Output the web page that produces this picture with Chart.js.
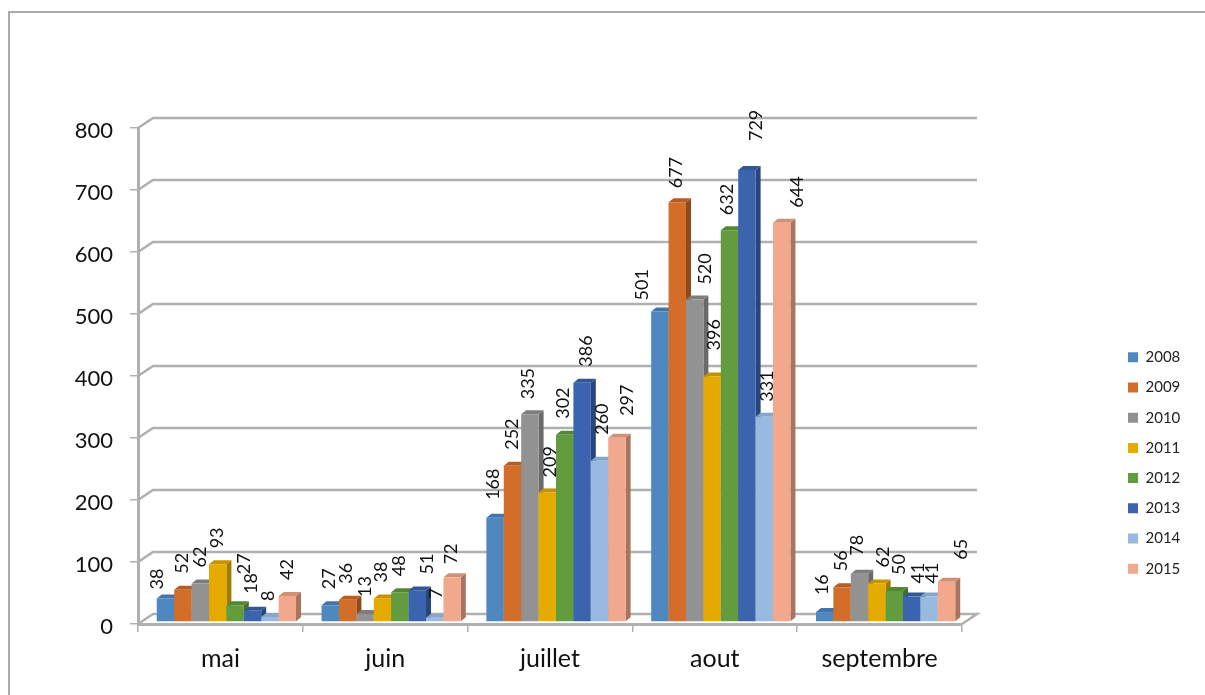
<!DOCTYPE html>
<html>
<head>
<meta charset="utf-8">
<title>mai - septembre</title>
<script src="https://cdn.jsdelivr.net/npm/chart.js@4"></script>
<style>
  html, body { margin: 0; padding: 0; background: #fff; overflow: hidden; }
  #frame { position: absolute; left: 8px; top: 11px; width: 1197px; height: 684px;
           border-left: 2px solid #aaaaaa; border-top: 2px solid #aaaaaa; box-sizing: border-box; }
  #mycanvas { position: absolute; left: 0; top: 0; }
</style>
</head>
<body>
<div id="frame"></div>
<canvas id="mycanvas" width="1205" height="695"></canvas>
<script>
var categories = ['mai', 'juin', 'juillet', 'aout', 'septembre'];
var years = ['2008', '2009', '2010', '2011', '2012', '2013', '2014', '2015'];
var y2008 = [38, 27, 168, 501, 16];
var y2009 = [52, 36, 252, 677, 56];
var y2010 = [62, 13, 335, 520, 78];
var y2011 = [93, 38, 209, 396, 62];
var y2012 = [27, 48, 302, 632, 50];
var y2013 = [18, 51, 386, 729, 41];
var y2014 = [8, 7, 260, 331, 41];
var y2015 = [42, 72, 297, 644, 65];
var series = [y2008, y2009, y2010, y2011, y2012, y2013, y2014, y2015];
var colors = ['#4f87bf', '#d36e2a', '#929292', '#e5aa00', '#629c3e', '#3a65ae', '#98b9e0', '#f2a88c'];
var sideColors = ['#39648f', '#8f4a1c', '#6a6a6a', '#a37a00', '#44702b', '#26467c', '#6f8cad', '#a9745f'];
var topColors = ['#4375a8', '#b55e22', '#7d7d7d', '#c69300', '#538635', '#315795', '#86a5ca', '#cf9076'];

var gridColor = '#b0b0b0';
var depthX = 15, depthY = 10;     // back wall offset
var barDx = 6, barDy = 2;         // bars stand a little behind the front edge
var sideX = 5, sideY = 4;         // bar depth
var labelGap = 18;

// the labels were moved by hand in the original, so nudge them per year / month
var labelDx = [
  [-8, -1, -2, -18, -2],
  [-1, -1, 0, -1, -1],
  [0, 0, -2, 10, -2],
  [-1, -1, 3, 2, 6],
  [9, -1, -2, -2, 5],
  [-1, 10, 4, 9, 6],
  [-2, 1, 3, 3, 3],
  [0, -1, 10, 15, 15]
];
var labelDy = [
  [7, 0, -2, 5, -1],
  [0, 0, 0, 2, 0],
  [0, -1, 1, 1, -2],
  [0, 0, 1, -10, 0],
  [-15, 0, 0, 1, 0],
  [-1, 0, 0, -13, 3],
  [0, -3, -10, 1, 3],
  [0, 3, -6, 1, -6]
];

var datasets = [];
for (var i in series) {
  datasets.push({
    label: years[i],
    data: series[i],
    backgroundColor: colors[i],
    borderWidth: 0,
    clip: false
  });
}

function drawSides(c, meta, i) {
  meta.data.forEach(function(el) {
    var l = el.x - el.width / 2, r = el.x + el.width / 2;
    c.fillStyle = sideColors[i];
    c.beginPath();
    c.moveTo(r, el.y);
    c.lineTo(r + sideX, el.y - sideY);
    c.lineTo(r + sideX, el.base - sideY);
    c.lineTo(r, el.base);
    c.closePath();
    c.fill();
    c.fillStyle = topColors[i];
    c.beginPath();
    c.moveTo(l, el.y);
    c.lineTo(l + sideX, el.y - sideY);
    c.lineTo(r + sideX, el.y - sideY);
    c.lineTo(r, el.y);
    c.closePath();
    c.fill();
  });
}

var wall3d = {
  id: 'wall3d',
  beforeDatasetsDraw: function(chart) {
    var c = chart.ctx, yS = chart.scales.y, a = chart.chartArea;
    c.save();
    c.strokeStyle = gridColor;
    c.lineWidth = 2.5;
    yS.ticks.forEach(function(t) {
      var p = yS.getPixelForValue(t.value);
      c.beginPath();
      c.moveTo(a.left, p);
      c.lineTo(a.left + depthX, p - depthY);
      c.lineTo(a.right + depthX, p - depthY);
      if (t.value === 0) c.lineTo(a.right, p);
      c.stroke();
    });
    c.restore();
    // left to right so each bar covers the side of the one before it
    c.save();
    c.translate(barDx, -barDy);
    for (var i = 0; i < series.length; i++) {
      var meta = chart.getDatasetMeta(i);
      drawSides(c, meta, i);
      meta.controller.draw();
    }
    c.restore();
  },
  beforeDatasetDraw: function() {
    return false;
  },
  afterDatasetsDraw: function(chart) {
    var c = chart.ctx;
    c.save();
    c.fillStyle = '#111';
    c.font = '18px Lato';
    c.textAlign = 'left';
    c.textBaseline = 'middle';
    chart.data.datasets.forEach(function(ds, i) {
      chart.getDatasetMeta(i).data.forEach(function(el, j) {
        c.save();
        c.translate(el.x + barDx + labelDx[i][j], el.y - labelGap + labelDy[i][j]);
        c.rotate(-Math.PI / 2);
        c.fillText(ds.data[j], 0, 0);
        c.restore();
      });
    });
    c.restore();
  },
  afterLayout: function(chart) {
    var lg = chart.legend;
    lg.left = 1128 - lg.options.labels.padding;
    lg.right = 1205;
    lg.top += 215;
    lg.bottom += 215;
  }
};

var ctx = document.getElementById('mycanvas');
var barGraph = new Chart(ctx, {
  type: 'bar',
  data: { labels: categories, datasets: datasets },
  plugins: [wall3d],
  options: {
    responsive: false,
    animation: false,
    layout: { padding: { top: 128, right: 243 } },
    categoryPercentage: 0.845,
    barPercentage: 1,
    plugins: {
      tooltip: { enabled: false },
      legend: {
        position: 'chartArea',
        labels: {
          boxWidth: 10,
          boxHeight: 10,
          padding: 15.2,
          color: '#222',
          font: { family: 'Lato', size: 15 }
        }
      }
    },
    scales: {
      x: {
        afterFit: function(s) { s.height = 71; },
        grid: { drawOnChartArea: false, color: gridColor, lineWidth: 1.5, tickLength: 8 },
        border: { color: gridColor, width: 3 },
        ticks: { color: '#111', padding: 12, font: { family: 'Lato', size: 25 } }
      },
      y: {
        min: 0,
        max: 800,
        afterFit: function(s) { s.width = 138; },
        grid: { drawOnChartArea: false, color: gridColor, lineWidth: 1.5, tickLength: 8 },
        border: { color: gridColor, width: 3 },
        ticks: { stepSize: 100, color: '#111', padding: 17, labelOffset: 3, font: { family: 'Lato', size: 22 } }
      }
    }
  }
});
</script>
</body>
</html>
